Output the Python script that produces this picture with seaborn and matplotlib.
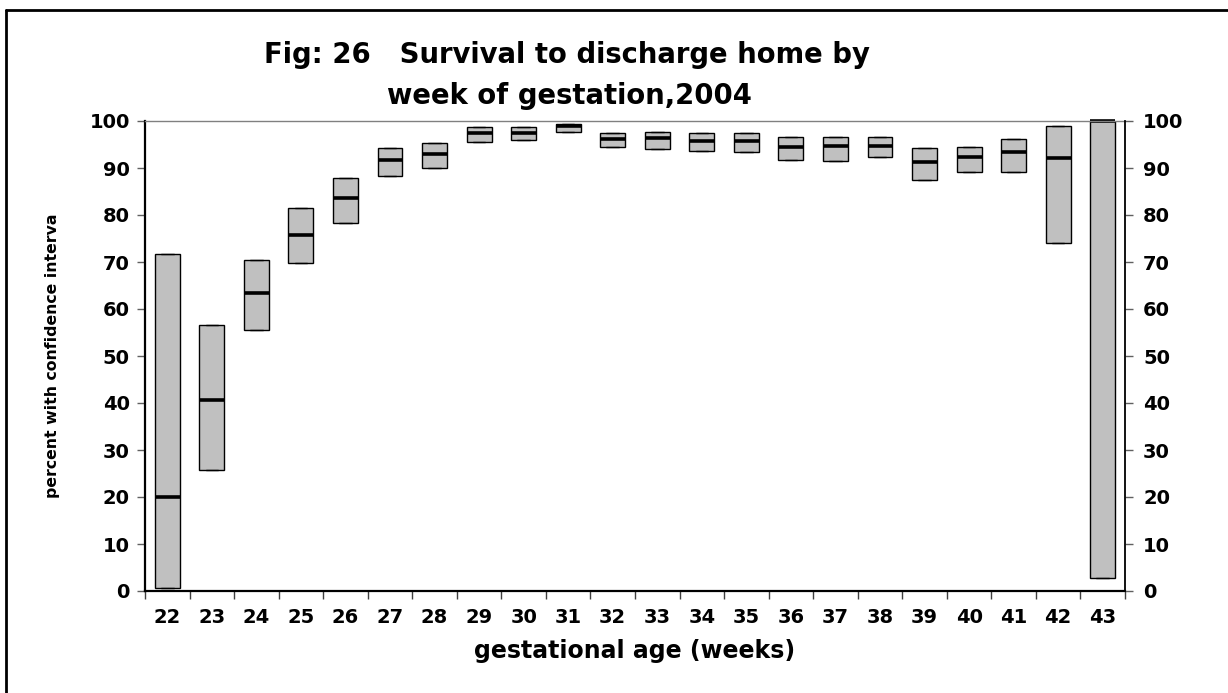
import numpy as np
import pandas as pd
import matplotlib
matplotlib.use("Agg")
import matplotlib.pyplot as plt
from matplotlib.lines import Line2D
import seaborn as sns

# survival to discharge home, % with confidence interval, by week of gestation
weeks = [str(w) for w in range(22, 44)]
ci_low = [0.7, 25.8, 55.5, 69.7, 78.3, 88.3, 90.0, 95.5, 96.0, 97.7, 94.5,
          94.0, 93.7, 93.3, 91.6, 91.5, 92.4, 87.4, 89.1, 89.2, 74.1, 2.7]
percent = [20.0, 40.6, 63.3, 75.8, 83.6, 91.7, 93.0, 97.4, 97.4, 99.0, 96.2,
           96.3, 95.8, 95.8, 94.4, 94.6, 94.7, 91.3, 92.3, 93.4, 92.1, 100.0]
ci_high = [71.6, 56.7, 70.4, 81.5, 87.8, 94.2, 95.4, 98.8, 98.8, 99.4, 97.5,
           97.7, 97.4, 97.5, 96.7, 96.7, 96.7, 94.3, 94.5, 96.2, 99.0, 100.0]

# five points per week -> quartiles land exactly on low / estimate / high
rows = []
for w, lo, mid, hi in zip(weeks, ci_low, percent, ci_high):
    for v in (lo, lo, mid, hi, hi):
        rows.append({"week": w, "pct": v})
df = pd.DataFrame(rows)

sns.set_style("ticks")
plt.rcParams["font.family"] = ["DejaVu Sans"]
plt.rcParams["font.weight"] = "bold"
plt.rcParams["text.color"] = "black"
plt.rcParams["axes.labelcolor"] = "black"
plt.rcParams["xtick.color"] = "black"
plt.rcParams["ytick.color"] = "black"

fig = plt.figure(figsize=(12.28, 6.93), dpi=100)
ax = fig.add_axes([145 / 1228, 102 / 693, 980 / 1228, 470 / 693])

sns.boxplot(data=df, x="week", y="pct", order=weeks, ax=ax,
            whis=0, width=0.56, color="#C0C0C0", saturation=1,
            linecolor="black", linewidth=1.0, fliersize=0,
            medianprops=dict(color="black", linewidth=2.6, clip_on=False))

ax.set_ylim(0, 100)
ax.set_xlim(-0.5, len(weeks) - 0.5)
ax.set_yticks(range(0, 101, 10))
ax.set_xticks(np.arange(-0.5, len(weeks), 1), minor=True)
ax.tick_params(axis="x", which="major", length=0, pad=12, labelsize=14,
               labelcolor="black")
ax.tick_params(axis="x", which="minor", length=6, width=1, color="#404040")
ax.tick_params(axis="y", length=6, width=1, color="#606060", pad=5,
               labelsize=14, labelcolor="black")

ax.set_xlabel("gestational age (weeks)", fontsize=17, fontweight="bold",
              labelpad=9, color="black")
ax.set_ylabel("percent with confidence interva", fontsize=11.3,
              fontweight="bold", color="black")
ax.yaxis.set_label_coords(-0.087, 0.5)

for side in ["left", "bottom"]:
    ax.spines[side].set_color("black")
    ax.spines[side].set_linewidth(1.6)
ax.spines["top"].set_color("#808080")
ax.spines["top"].set_linewidth(1.0)
ax.spines["right"].set_visible(False)

ax2 = ax.twinx()
ax2.set_ylim(0, 100)
ax2.set_yticks(range(0, 101, 10))
ax2.tick_params(axis="y", length=6, width=1, color="#606060", pad=7,
                labelsize=14, labelcolor="black")
for side in ["left", "top", "bottom"]:
    ax2.spines[side].set_visible(False)
ax2.spines["right"].set_color("black")
ax2.spines["right"].set_linewidth(1.3)

fig.text(567 / 1228, 1 - 63 / 693, "Fig: 26   Survival to discharge home by",
         ha="center", va="baseline", fontsize=19.8, fontweight="bold",
         color="black")
fig.text(569 / 1228, 1 - 104 / 693, "week of gestation,2004",
         ha="center", va="baseline", fontsize=19.8, fontweight="bold",
         color="black")

# outer frame (only left and top edges fall inside the picture)
fig.add_artist(Line2D([6 / 1228, 6 / 1228], [0, 1 - 10 / 693],
                      transform=fig.transFigure, color="black", linewidth=2))
fig.add_artist(Line2D([6 / 1228, 1], [1 - 10 / 693, 1 - 10 / 693],
                      transform=fig.transFigure, color="black", linewidth=2))

fig.savefig("out.png", dpi=100)
